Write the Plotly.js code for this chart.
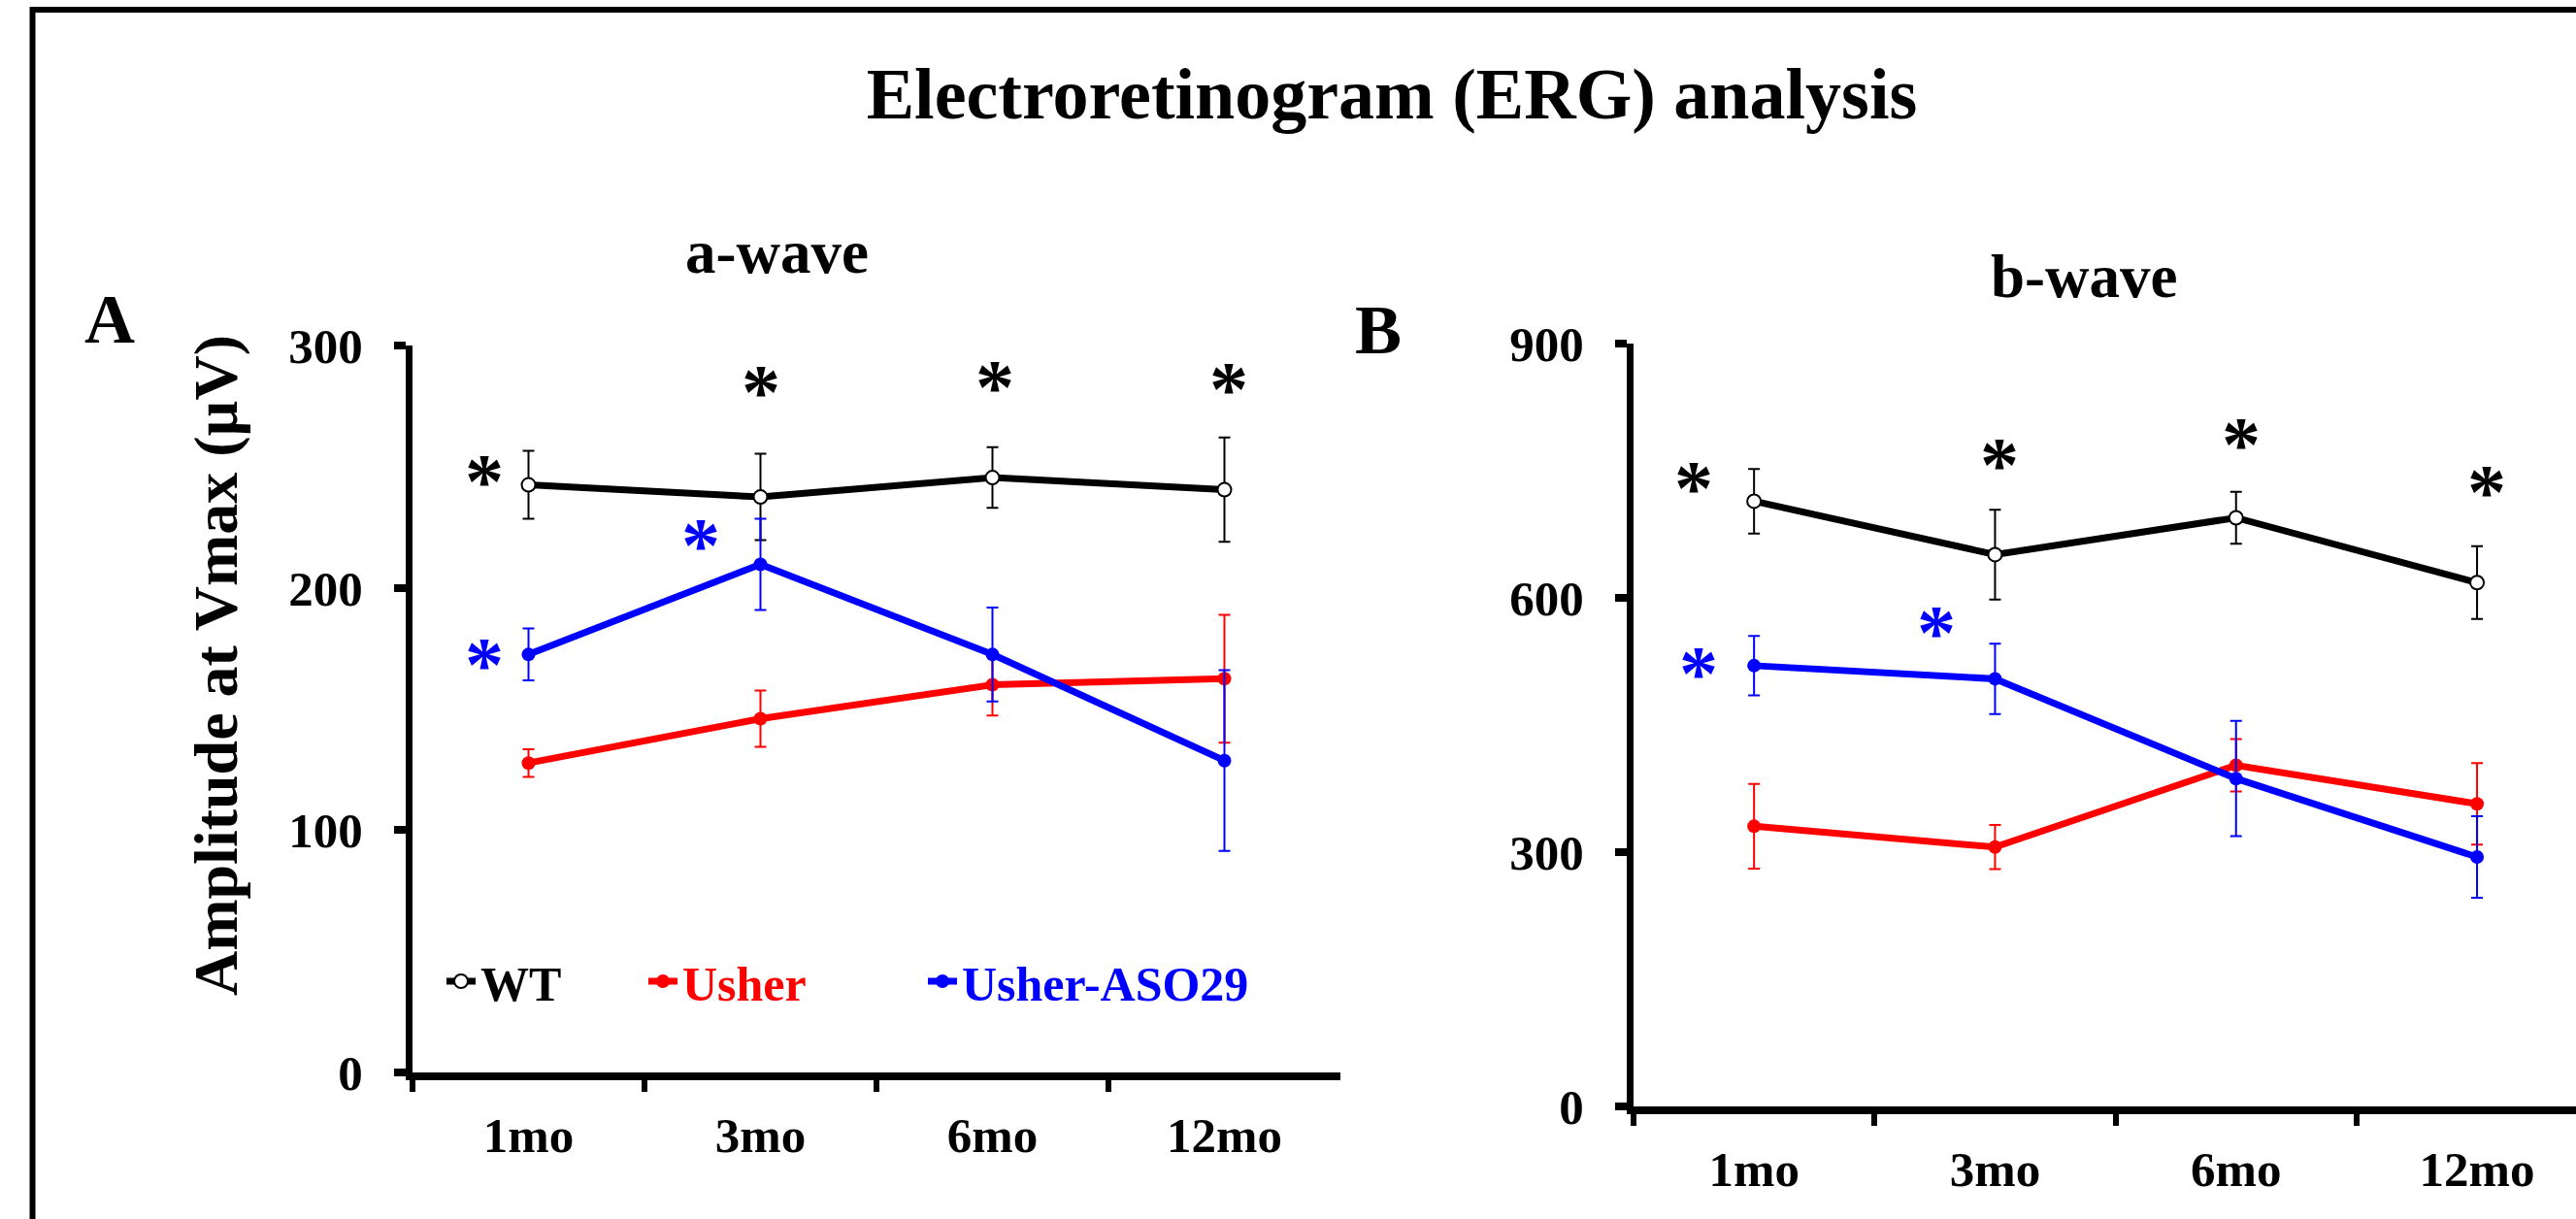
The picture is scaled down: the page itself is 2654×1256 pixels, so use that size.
<!DOCTYPE html>
<html>
<head>
<meta charset="utf-8">
<script src="https://cdn.plot.ly/plotly-3.0.1.min.js"></script>
<style>
  html, body { margin: 0; padding: 0; background: #ffffff; }
  #chart { width: 2654px; height: 1256px; }
</style>
</head>
<body>
<div id="chart"></div>
<script>
// ---------- data ----------
const categories = ['1mo', '3mo', '6mo', '12mo'];
const seriesNames = ['WT', 'Usher', 'Usher-ASO29'];

// a-wave (panel A), amplitude in µV
const aWaveWT        = [242.5, 237.5, 245.5, 240.5];
const aWaveWTErr     = [14, 17.8, 12.5, 21.5];
const aWaveUsher     = [127.7, 146, 160, 162.5];
const aWaveUsherErr  = [5.7, 11.6, 12.7, 26.4];
const aWaveASO       = [172.5, 209.7, 172.5, 128.7];
const aWaveASOErr    = [10.7, 18.8, 19.4, 37.3];

// b-wave (panel B), amplitude in µV
const bWaveWT        = [714, 651, 694.5, 618];
const bWaveWTErr     = [38, 53, 30.6, 43];
const bWaveUsher     = [330.5, 306, 402.5, 357];
const bWaveUsherErr  = [50, 26, 30.8, 48];
const bWaveASO       = [520, 504.5, 386.8, 294.3];
const bWaveASOErr    = [35, 41.5, 68, 48];

const aTickVals = [0, 100, 200, 300];
const bTickVals = [0, 300, 600, 900];

// significance marks: [category position, amplitude, group]
const aStars = [[-0.19, 249.5, 'WT'], [1.0, 286.2, 'WT'], [2.01, 288.4, 'WT'], [3.02, 287.4, 'WT'],
                [-0.19, 174, 'ASO'], [0.744, 223, 'ASO']];
const bStars = [[-0.25, 745, 'WT'], [1.02, 773, 'WT'], [2.02, 797, 'WT'], [3.04, 740.5, 'WT'],
                [-0.23, 527, 'ASO'], [0.757, 574.5, 'ASO']];

// ---------- styling ----------
const W = 2654, H = 1256;
const FONT = 'Liberation Serif, Times New Roman, serif';
const BLACK = '#000000', RED = '#ff0000', BLUE = '#0000ff';
const colors = { WT: BLACK, Usher: RED, ASO: BLUE };

function px(x) { return x / W; }
function py(y) { return (H - y) / H; }

function mkTrace(y, err, color, name, xa, ya, legend, showlegend, open) {
  return {
    type: 'scatter', mode: 'lines+markers',
    x: categories, y: y, name: name,
    xaxis: xa, yaxis: ya,
    legend: legend, showlegend: showlegend,
    cliponaxis: false,
    line: { color: color, width: 7 },
    marker: open
      ? { symbol: 'circle', size: 14, color: '#ffffff', line: { color: color, width: 2 } }
      : { symbol: 'circle', size: 14, color: color, line: { color: color, width: 0 } },
    error_y: { type: 'data', array: err, visible: true, color: color, thickness: 2, width: 6 }
  };
}

const traces = [
  mkTrace(aWaveWT, aWaveWTErr, BLACK, seriesNames[0], 'x', 'y', 'legend', true, true),
  mkTrace(aWaveUsher, aWaveUsherErr, RED, seriesNames[1], 'x', 'y', 'legend2', true, false),
  mkTrace(aWaveASO, aWaveASOErr, BLUE, seriesNames[2], 'x', 'y', 'legend3', true, false),
  mkTrace(bWaveWT, bWaveWTErr, BLACK, seriesNames[0], 'x2', 'y2', 'legend', false, true),
  mkTrace(bWaveUsher, bWaveUsherErr, RED, seriesNames[1], 'x2', 'y2', 'legend2', false, false),
  mkTrace(bWaveASO, bWaveASOErr, BLUE, seriesNames[2], 'x2', 'y2', 'legend3', false, false)
];

const tickFont = { family: FONT, size: 51, color: BLACK, weight: 'bold' };

function xAxis(domain, range) {
  return {
    domain: domain, range: range, type: 'category',
    showline: true, linewidth: 8, linecolor: BLACK,
    ticks: 'outside', tickson: 'boundaries', ticklen: 12, tickwidth: 6, tickcolor: BLACK,
    ticklabelstandoff: 13,
    showgrid: false, zeroline: false, fixedrange: true,
    tickfont: tickFont
  };
}
function yAxis(domain, range, tickvals, anchor) {
  return {
    domain: domain, range: range, anchor: anchor,
    tickvals: tickvals, ticktext: tickvals.map(String),
    showline: true, linewidth: 7, linecolor: BLACK,
    ticks: 'outside', ticklen: 12, tickwidth: 8, tickcolor: BLACK,
    ticklabelstandoff: 22,
    showgrid: false, zeroline: false, fixedrange: true,
    tickfont: tickFont
  };
}

const starAnns = [];
function addStars(list, xref, yref) {
  list.forEach(s => {
    starAnns.push({
      xref: xref, yref: yref, x: s[0], y: s[1], text: '*', showarrow: false,
      xanchor: 'center', yanchor: 'middle', yshift: -14,
      font: { family: FONT, size: 80, color: colors[s[2]], weight: 'bold' }
    });
  });
}
addStars(aStars, 'x', 'y');
addStars(bStars, 'x2', 'y2');

const textAnns = [
  { text: 'A', x: px(113), y: py(329), size: 72 },
  { text: 'B', x: px(1420), y: py(340), size: 72 },
  { text: 'a-wave', x: px(801), y: py(260), size: 63 },
  { text: 'b-wave', x: px(2147), y: py(285), size: 63 }
].map(a => ({
  xref: 'paper', yref: 'paper', x: a.x, y: a.y, text: a.text, showarrow: false,
  xanchor: 'center', yanchor: 'middle',
  font: { family: FONT, size: a.size, color: BLACK, weight: 'bold' }
}));

// y-axis title of panel A (rotated text)
textAnns.push({
  xref: 'paper', yref: 'paper', x: px(222), y: py(686), text: 'Amplitude at Vmax (µV)',
  showarrow: false, textangle: -90, xanchor: 'center', yanchor: 'middle',
  font: { family: FONT, size: 64, color: BLACK, weight: 'bold' }
});

function legendAt(xPx, color) {
  return {
    x: px(xPx), y: py(1011), xanchor: 'left', yanchor: 'middle',
    orientation: 'h', bgcolor: 'rgba(0,0,0,0)', borderwidth: 0,
    font: { family: FONT, size: 50, color: color, weight: 'bold' },
    itemclick: false, itemdoubleclick: false
  };
}

const layout = {
  width: W, height: H,
  margin: { l: 0, r: 0, t: 0, b: 0, pad: 0 },
  paper_bgcolor: '#ffffff', plot_bgcolor: 'rgba(0,0,0,0)',
  showlegend: true,
  title: {
    text: 'Electroretinogram (ERG) analysis',
    x: px(1434), xref: 'paper', xanchor: 'center',
    y: 1 - 96 / H, yref: 'container', yanchor: 'middle',
    font: { family: FONT, size: 74, color: BLACK, weight: 'bold' }
  },
  xaxis: xAxis([px(425), px(1381)], [-0.5, 3.5]),
  yaxis: yAxis([py(1105), py(356)], [0, 300], aTickVals, 'x'),
  xaxis2: Object.assign(xAxis([px(1683), 1], [-0.5, -0.5 + (W - 1683) / 248.3]), { anchor: 'y2' }),
  yaxis2: yAxis([py(1140), py(354)], [0, 900], bTickVals, 'x2'),
  legend: legendAt(455, BLACK),
  legend2: legendAt(663, RED),
  legend3: legendAt(951, BLUE),
  annotations: textAnns.concat(starAnns),
  shapes: [{
    type: 'path', xref: 'paper', yref: 'paper',
    path: 'M ' + px(33.5) + ' -0.01 L ' + px(33.5) + ' ' + py(10) + ' L 1.01 ' + py(10),
    line: { color: BLACK, width: 6 }, fillcolor: 'rgba(0,0,0,0)'
  }]
};

Plotly.newPlot('chart', traces, layout, { staticPlot: true, displayModeBar: false });
</script>
</body>
</html>
